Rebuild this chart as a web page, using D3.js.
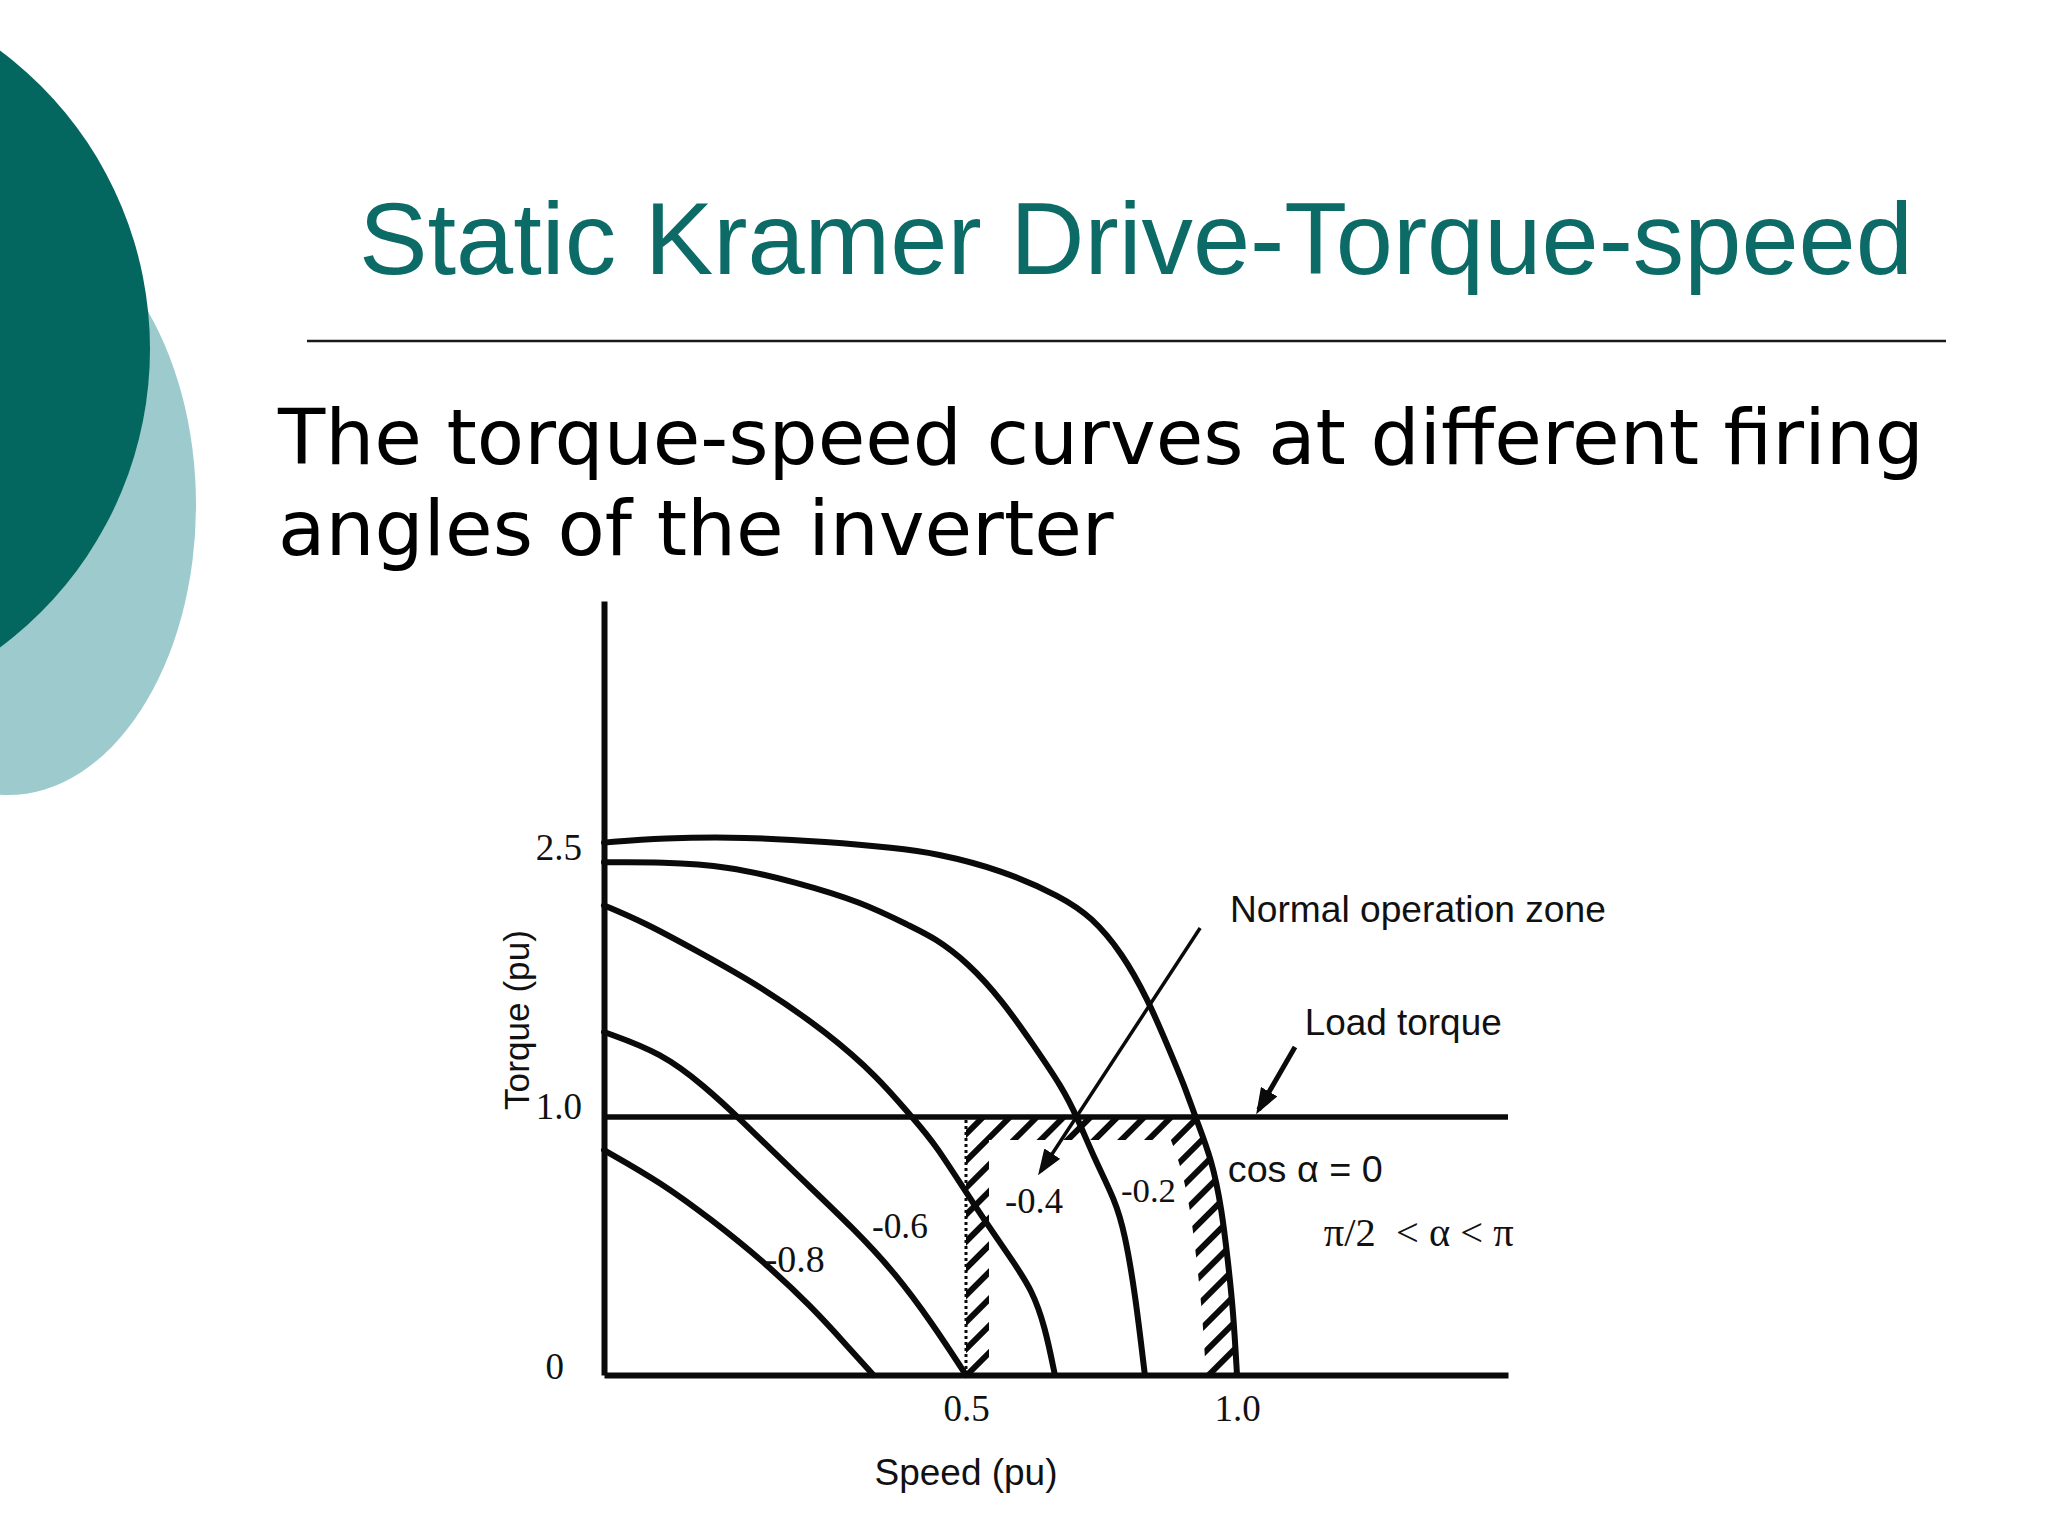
<!DOCTYPE html>
<html>
<head>
<meta charset="utf-8">
<script src="https://cdn.jsdelivr.net/npm/d3@7"></script>
<style>
  html, body { margin: 0; padding: 0; background: #ffffff; }
  svg { display: block; }
</style>
</head>
<body>
<svg id="chart" width="2048" height="1536"></svg>
<script>
// ---------------- DATA ----------------
const titleText = "Static Kramer Drive-Torque-speed";
const subtitleLines = ["The torque-speed curves at different firing", "angles of the inverter"];

const xTickValues = [0.5, 1.0];
const xTickLabels = ["0.5", "1.0"];
const yTickValues = [0, 1.0, 2.5];
const yTickLabels = ["0", "1.0", "2.5"];

const xAxisTitle = "Speed (pu)";
const yAxisTitle = "Torque (pu)";

const curveNames = ["cos α = 0", "-0.2", "-0.4", "-0.6", "-0.8"];

// cos α = 0 (outermost curve)
const speedCos0  = [0, 0.080, 0.195, 0.309, 0.402, 0.457, 0.566, 0.677, 0.732, 0.788, 0.836, 0.873, 0.904, 0.923, 0.954, 0.972, 0.983, 0.993, 1.0];
const torqueCos0 = [2.53, 2.556, 2.562, 2.534, 2.500, 2.472, 2.378, 2.227, 2.115, 1.915, 1.653, 1.390, 1.167, 1.0, 0.833, 0.640, 0.446, 0.252, 0];
// -0.2
const speedM02  = [0, 0.080, 0.171, 0.264, 0.356, 0.425, 0.457, 0.504, 0.566, 0.627, 0.677, 0.705, 0.738, 0.775, 0.793, 0.812, 0.830];
const torqueM02 = [2.42, 2.422, 2.400, 2.311, 2.199, 2.060, 1.998, 1.859, 1.653, 1.390, 1.167, 1.0, 0.833, 0.678, 0.550, 0.318, 0];
// -0.4
const speedM04  = [0, 0.057, 0.126, 0.218, 0.309, 0.378, 0.425, 0.457, 0.517, 0.585, 0.622, 0.646, 0.664];
const torqueM04 = [2.18, 2.082, 1.931, 1.725, 1.468, 1.223, 1.0, 0.899, 0.651, 0.446, 0.329, 0.186, 0];
// -0.6
const speedM06  = [0, 0.080, 0.140, 0.185, 0.264, 0.347, 0.402, 0.453, 0.5];
const torqueM06 = [1.474, 1.357, 1.167, 1.0, 0.783, 0.562, 0.395, 0.202, 0];
// -0.8
const speedM08  = [0, 0.080, 0.149, 0.218, 0.287, 0.337, 0.372];
const torqueM08 = [0.872, 0.744, 0.601, 0.446, 0.264, 0.109, 0];

const loadTorque = 1.0;
const zoneMinSpeed = 0.5;

const annNormal = "Normal operation zone";
const annLoad = "Load torque";
const annRange = "π/2  < α < π";

// ---------------- DRAWING ----------------
const svg = d3.select("#chart");
const INK = "#0a0a0a";

function fit(sel, w) {
  const l = sel.node().getComputedTextLength();
  const fs = +sel.attr("font-size");
  sel.attr("font-size", (fs * w / l).toFixed(2));
}

// Background decoration
svg.append("ellipse").attr("cx", 8).attr("cy", 505).attr("rx", 188).attr("ry", 290).attr("fill", "#9dcbcd");
svg.append("circle").attr("cx", -222).attr("cy", 349).attr("r", 372).attr("fill", "#03665f");

// Title
const title = svg.append("text").attr("x", 359).attr("y", 274)
  .attr("font-family", "'Liberation Sans', Arial, sans-serif").attr("font-size", 100)
  .attr("fill", "#0c6b66").text(titleText);
fit(title, 1554);

svg.append("line").attr("x1", 307).attr("x2", 1946).attr("y1", 341).attr("y2", 341)
  .attr("stroke", "#1a1a1a").attr("stroke-width", 2.5);

// Subtitle
const sub1 = svg.append("text").attr("x", 278).attr("y", 464)
  .attr("font-family", "'DejaVu Sans', Verdana, sans-serif").attr("font-size", 76)
  .attr("fill", "#000").text(subtitleLines[0]);
fit(sub1, 1646);
svg.append("text").attr("x", 278).attr("y", 555)
  .attr("font-family", "'DejaVu Sans', Verdana, sans-serif").attr("font-size", sub1.attr("font-size"))
  .attr("fill", "#000").text(subtitleLines[1]);

// Scales (piecewise, as the original figure is not drawn to a uniform scale)
const x = d3.scaleLinear().domain([0, 0.5, 1.0, 1.5]).range([604, 966, 1237, 1508]);
const y = d3.scaleLinear().domain([0, 1.0, 2.5, 3.88]).range([1375, 1117, 848, 601]);

const zip = (a, b) => a.map((v, i) => [v, b[i]]);
const curves = [
  zip(speedCos0, torqueCos0),
  zip(speedM02, torqueM02),
  zip(speedM04, torqueM04),
  zip(speedM06, torqueM06),
  zip(speedM08, torqueM08)
];

const lineGen = d3.line().x(d => x(d[0])).y(d => y(d[1])).curve(d3.curveBasis);

// Defs: hatch pattern, zone clip, band mask, arrow markers
const defs = svg.append("defs");
const pat = defs.append("pattern").attr("id", "hatch").attr("patternUnits", "userSpaceOnUse")
  .attr("width", 19).attr("height", 19).attr("patternTransform", "rotate(45)");
pat.append("rect").attr("x", 0).attr("y", 0).attr("width", 6).attr("height", 19).attr("fill", INK);

const eBelow = curves[0].filter(p => p[1] <= loadTorque);
const eSub = lineGen(eBelow);
const eStart = eBelow[0];
const topLeftPath = `M${x(zoneMinSpeed)},${y(0)}L${x(zoneMinSpeed)},${y(loadTorque)}L${x(eStart[0])},${y(eStart[1])}`;
const openPath = `M${x(zoneMinSpeed)},${y(0)}L${x(zoneMinSpeed)},${y(loadTorque)}L` + eSub.slice(1);
const closedPath = openPath + `L${x(zoneMinSpeed)},${y(0)}Z`;

defs.append("clipPath").attr("id", "zoneClip").append("path").attr("d", closedPath);
const mask = defs.append("mask").attr("id", "bandMask").attr("maskUnits", "userSpaceOnUse")
  .attr("x", 0).attr("y", 0).attr("width", 2048).attr("height", 1536);
mask.append("path").attr("d", topLeftPath).attr("fill", "none").attr("stroke", "#fff").attr("stroke-width", 46);
mask.append("path").attr("d", eSub).attr("fill", "none").attr("stroke", "#fff").attr("stroke-width", 62);

function marker(id, len, wid) {
  defs.append("marker").attr("id", id).attr("markerUnits", "userSpaceOnUse")
    .attr("markerWidth", len).attr("markerHeight", wid).attr("refX", len - 5).attr("refY", wid / 2)
    .attr("orient", "auto")
    .append("path").attr("d", `M0,0L${len},${wid / 2}L0,${wid}Z`).attr("fill", INK);
}
marker("arrowN", 26, 19);
marker("arrowL", 26, 19);

// Hatched normal operation zone
svg.append("g").attr("clip-path", "url(#zoneClip)")
  .append("rect").attr("x", 0).attr("y", 0).attr("width", 2048).attr("height", 1536)
  .attr("fill", "url(#hatch)").attr("mask", "url(#bandMask)");

// Dotted boundary at speed 0.5
svg.append("line").attr("x1", x(zoneMinSpeed)).attr("x2", x(zoneMinSpeed))
  .attr("y1", y(0)).attr("y2", y(loadTorque))
  .attr("stroke", INK).attr("stroke-width", 3).attr("stroke-dasharray", "3,3");

// Curves
svg.append("g").selectAll("path").data(curves).join("path")
  .attr("d", lineGen).attr("fill", "none").attr("stroke", INK)
  .attr("stroke-width", 6).attr("stroke-linecap", "round");

// Axes
const gx = svg.append("g").attr("transform", `translate(0,${y(0)})`)
  .call(d3.axisBottom(x).tickValues(xTickValues).tickFormat((d, i) => xTickLabels[i])
    .tickSizeInner(0).tickSizeOuter(0).tickPadding(20));
gx.attr("font-family", "'Liberation Serif', 'Times New Roman', serif").attr("font-size", 37);
gx.select(".domain").attr("stroke", INK).attr("stroke-width", 6);
gx.selectAll(".tick text").attr("fill", "#111");

const gy = svg.append("g").attr("transform", `translate(${x(0)},0)`)
  .call(d3.axisLeft(y).tickValues(yTickValues).tickFormat((d, i) => yTickLabels[i])
    .tickSizeInner(0).tickSizeOuter(0).tickPadding(22));
gy.attr("font-family", "'Liberation Serif', 'Times New Roman', serif").attr("font-size", 37);
gy.select(".domain").attr("stroke", INK).attr("stroke-width", 6);
gy.selectAll(".tick text").attr("fill", "#111").each(function (d) {
  if (d === 0) d3.select(this).attr("x", -40).attr("y", -8);
  if (d === 1) d3.select(this).attr("y", -10);
});

// Load torque line
svg.append("line").attr("x1", x(0)).attr("x2", x(1.5))
  .attr("y1", y(loadTorque)).attr("y2", y(loadTorque))
  .attr("stroke", INK).attr("stroke-width", 5.5);

// Arrows
svg.append("line").attr("x1", x(0.932)).attr("y1", y(2.054)).attr("x2", x(0.638)).attr("y2", y(0.79))
  .attr("stroke", INK).attr("stroke-width", 3.5).attr("marker-end", "url(#arrowN)");
svg.append("line").attr("x1", x(1.107)).attr("y1", y(1.390)).attr("x2", x(1.040)).attr("y2", y(1.04))
  .attr("stroke", INK).attr("stroke-width", 5).attr("marker-end", "url(#arrowL)");

// Axis titles
const sans = "'Liberation Sans', Arial, sans-serif";
const serif = "'Liberation Serif', 'Times New Roman', serif";
const xt = svg.append("text").attr("x", x(0.5)).attr("y", 1485).attr("text-anchor", "middle")
  .attr("font-family", sans).attr("font-size", 36).attr("fill", "#111").text(xAxisTitle);
fit(xt, 183);
const yt = svg.append("text").attr("transform", `translate(529,1020) rotate(-90)`).attr("text-anchor", "middle")
  .attr("font-family", sans).attr("font-size", 36).attr("fill", "#111").text(yAxisTitle);
fit(yt, 180);

// Annotations
function ann(txt, sx, ty, family, w) {
  const t = svg.append("text").attr("x", x(sx)).attr("y", y(ty))
    .attr("font-family", family).attr("font-size", 36).attr("fill", "#111")
    .style("white-space", "pre").text(txt);
  if (w) fit(t, w);
  return t;
}
ann(annNormal, 0.987, 2.088, sans, 376);
ann(annLoad, 1.125, 1.457, sans, 197);
ann(curveNames[0], 0.983, 0.748, sans, 155);
ann(annRange, 1.160, 0.5, serif, 190);
ann(curveNames[1], 0.786, 0.671, serif, 55);
ann(curveNames[2], 0.572, 0.628, serif, 58);
ann(curveNames[3], 0.370, 0.531, serif, 56);
ann(curveNames[4], 0.222, 0.399, serif, 60);
</script>
</body>
</html>
